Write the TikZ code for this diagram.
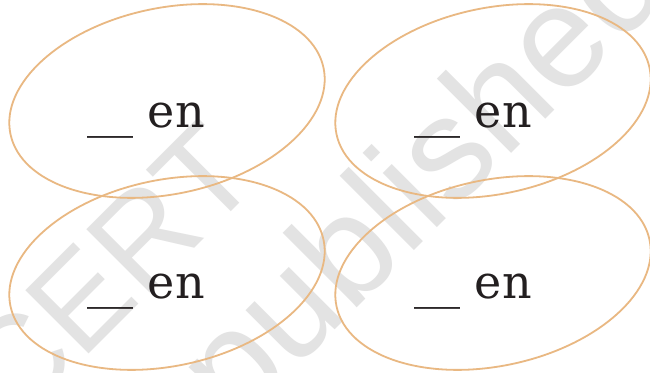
\documentclass[tikz,border=0pt]{standalone}
\usepackage{fontspec}
\newfontfamily\wmfont{Liberation Sans}
\newfontfamily\wordfont{DejaVu Serif}
\definecolor{ringc}{RGB}{233,184,130}
\definecolor{wmgray}{RGB}{227,227,227}
\definecolor{inkc}{RGB}{35,31,32}
\begin{document}
\begin{tikzpicture}[x=1pt,y=1pt,
  ring/.style={draw=ringc,line width=1.8pt},
  word/.style={anchor=base west,inner sep=0pt,text=inkc,font=\wordfont\fontsize{46}{54}\selectfont},
  wm/.style={inner sep=0pt,text=wmgray,rotate=45}]
\useasboundingbox (0,0) rectangle (650,372);
\fill[white] (0,0) rectangle (650,372);
% watermark
\node[wm,anchor=base east,font=\wmfont\fontsize{130}{150}\selectfont] (wm1) at (264,193) {© NCERT};
\node[wm,anchor=base east,font=\wmfont\fontsize{145}{165}\selectfont] (wm2) at (676,383) {not to be republished};
% ellipses
\coordinate (c1) at (167,271);
\coordinate (c2) at (493,271);
\coordinate (c3) at (167,99);
\coordinate (c4) at (493,99);
\draw[ring] (c1) ellipse[x radius=160, y radius=93, rotate=12];
\draw[ring] (c2) ellipse[x radius=160, y radius=93, rotate=12];
\draw[ring] (c3) ellipse[x radius=160, y radius=93, rotate=12];
\draw[ring] (c4) ellipse[x radius=160, y radius=93, rotate=12];
% words
\node[word] (t1) at (87,244) {\_\_ en};
\node[word] (t2) at (414,244) {\_\_ en};
\node[word] (t3) at (87,74) {\_\_ en};
\node[word] (t4) at (414,74) {\_\_ en};
\end{tikzpicture}
\end{document}
